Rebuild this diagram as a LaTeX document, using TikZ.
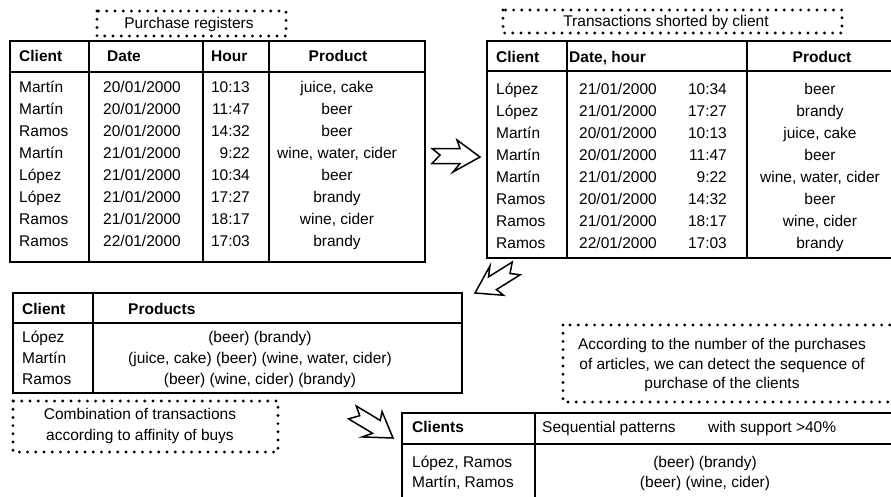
\documentclass[tikz,border=0pt]{standalone}
\usepackage{fontspec}
\setmainfont{Liberation Sans}
\usetikzlibrary{positioning}

\newcommand\cellfont{\fontsize{15.5}{18}\selectfont}

\tikzset{
  frame/.style={line width=2.4pt},
  rule/.style={line width=1.8pt},
  dotbox/.style={line width=3.2pt, dash pattern=on 0pt off 8.2pt, line cap=round},
  cell/.style={inner sep=0pt, text height=11pt, text depth=3pt, font=\cellfont},
  head/.style={cell, font=\cellfont\bfseries},
  arrowline/.style={line width=1.5pt, line join=miter, fill=white},
  bigarrow/.pic={
    \draw[arrowline] (0,0) -- (-23,17) -- (-20,8.5) -- (-48,8.5) -- (-40,2)
      -- (-48,-6.5) -- (-20,-6.5) -- (-27,-15) -- cycle;
  }
}

\begin{document}
\begin{tikzpicture}[x=1pt,y=1pt]
\useasboundingbox (0,0) rectangle (891,-496);
\clip (0,0) rectangle (891,-496);

% purchase registers
\draw[dotbox] (97,-11) rectangle (286,-36);
\node[cell](regtitle) at (189,-24){Purchase registers};
\draw[frame] (10,-41) rectangle (425,-262);
\draw[frame] (10,-72) -- (425,-72);
\draw[rule] (89,-41) -- (89,-262) (203,-41) -- (203,-262) (269,-41) -- (269,-262);
\node[head,anchor=west](regclient) at (19,-57){Client};
\node[head,anchor=west](regdate) at (107,-57){Date};
\node[head,anchor=west](reghour) at (211,-57){Hour};
\node[head](regproduct) at (338,-57){Product};
\foreach \c/\d/\h/\p [count=\i] in {
  Martín/{20/01/2000}/10:13/{juice, cake},
  Martín/{20/01/2000}/11:47/beer,
  Ramos/{20/01/2000}/14:32/beer,
  Martín/{21/01/2000}/9:22/{wine, water, cider},
  López/{21/01/2000}/10:34/beer,
  López/{21/01/2000}/17:27/brandy,
  Ramos/{21/01/2000}/18:17/{wine, cider},
  Ramos/{22/01/2000}/17:03/brandy}{
  \node[cell,anchor=west](reg-\i-client) at (19,{-88-22.1*(\i-1)}){\c};
  \node[cell](reg-\i-date) at (142,{-88-22.1*(\i-1)}){\d};
  \node[cell,anchor=east](reg-\i-hour) at (250,{-88-22.1*(\i-1)}){\h};
  \node[cell](reg-\i-product) at (337,{-88-22.1*(\i-1)}){\p};
}

% sorted by client
\draw[dotbox] (503,-10) rectangle (842,-33);
\node[cell](sorttitle) at (666,-22){Transactions shorted by client};
\draw[frame] (487,-41) rectangle (920,-258);
\draw[frame] (487,-71) -- (920,-71);
\draw[rule] (567,-41) -- (567,-258) (747,-41) -- (747,-258);
\node[head,anchor=west](sortclient) at (496,-58){Client};
\node[head,anchor=west](sortdate) at (569,-58){Date, hour};
\node[head](sortproduct) at (822,-58){Product};
\foreach \c/\d/\h/\p [count=\i] in {
  López/{21/01/2000}/10:34/beer,
  López/{21/01/2000}/17:27/brandy,
  Martín/{20/01/2000}/10:13/{juice, cake},
  Martín/{20/01/2000}/11:47/beer,
  Martín/{21/01/2000}/9:22/{wine, water, cider},
  Ramos/{20/01/2000}/14:32/beer,
  Ramos/{21/01/2000}/18:17/{wine, cider},
  Ramos/{22/01/2000}/17:03/brandy}{
  \node[cell,anchor=west](sort-\i-client) at (496,{-90-22.1*(\i-1)}){\c};
  \node[cell,anchor=west](sort-\i-date) at (579,{-90-22.1*(\i-1)}){\d};
  \node[cell,anchor=east](sort-\i-hour) at (727,{-90-22.1*(\i-1)}){\h};
  \node[cell](sort-\i-product) at (820,{-90-22.1*(\i-1)}){\p};
}

% products per client
\draw[frame] (13,-293) rectangle (462,-393);
\draw[frame] (13,-323) -- (462,-323);
\draw[rule] (93,-293) -- (93,-393);
\node[head,anchor=west](combclient) at (22,-310){Client};
\node[head,anchor=west](combproducts) at (128,-310){Products};
\foreach \c/\p [count=\i] in {
  López/(beer) (brandy),
  Martín/{(juice, cake) (beer) (wine, water, cider)},
  Ramos/{(beer) (wine, cider) (brandy)}}{
  \node[cell,anchor=west](comb-\i-client) at (22,{-338-21*(\i-1)}){\c};
  \node[cell](comb-\i-products) at (260,{-338-21*(\i-1)}){\p};
}
\draw[dotbox] (13,-401) rectangle (278,-452);
\node[cell](combnote1) at (140,-415){Combination of transactions};
\node[cell](combnote2) at (140,-436){according to affinity of buys};

% sequential patterns
\draw[dotbox] (563,-325) rectangle (920,-402);
\node[cell](seqnote1) at (722,-345){According to the number of the purchases};
\node[cell](seqnote2) at (722,-365){of articles, we can detect the sequence of};
\node[cell](seqnote3) at (722,-384){purchase of the clients};
\draw[frame] (402,-413) rectangle (920,-520);
\draw[frame] (402,-444) -- (920,-444);
\draw[rule] (535,-413) -- (535,-520);
\node[head,anchor=west](seqclients) at (412,-428){Clients};
\node[cell,anchor=west](seqpatterns) at (542,-428){Sequential patterns};
\node[cell,anchor=west](seqsupport) at (708,-428){with support >40\%};
\node[cell,anchor=west](seq-1-clients) at (412,-463){López, Ramos};
\node[cell](seq-1-pattern) at (705,-463){(beer) (brandy)};
\node[cell,anchor=west](seq-2-clients) at (412,-483){Martín, Ramos};
\node[cell](seq-2-pattern) at (705,-483){(beer) (wine, cider)};

% step arrows
\coordinate (tipA) at (480,-157);
\coordinate (tipB) at (475,-293);
\coordinate (tipC) at (393,-438);
\pic at (tipA) {bigarrow};
\pic[rotate=212] at (tipB) {bigarrow};
\pic[rotate=-31] at (tipC) {bigarrow};
\end{tikzpicture}
\end{document}
